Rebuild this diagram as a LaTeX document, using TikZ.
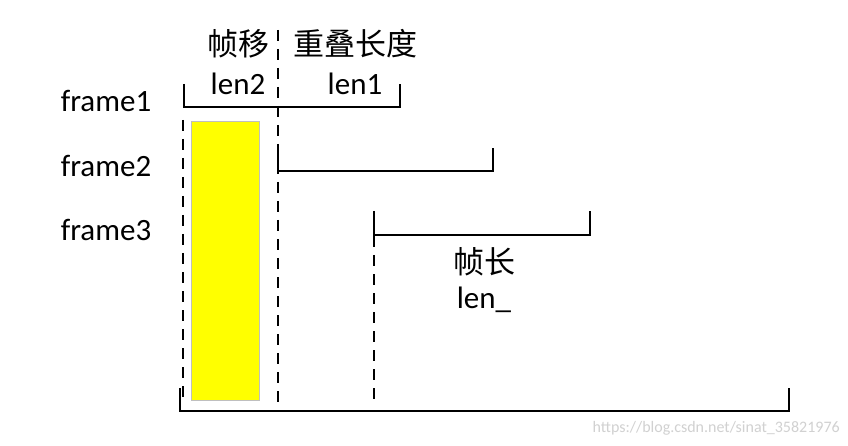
\documentclass[tikz,border=0pt]{standalone}
\usepackage{fontspec}
\setmainfont{Carlito}
\newfontfamily\cjk{Noto Sans CJK SC}
\definecolor{ylw}{RGB}{255,255,0}
\begin{document}
\begin{tikzpicture}[x=1pt,y=-1pt,
  br/.style={line width=2.6pt},
  dsh/.style={line width=2pt,dash pattern=on 11pt off 8pt},
  lbl/.style={font=\fontsize{31}{34}\selectfont,inner sep=0pt},
  cj/.style={font=\cjk\fontsize{31}{34}\selectfont,inner sep=0pt}]
\useasboundingbox[fill=white] (0,0) rectangle (848,446);
% yellow bar
\node[draw=black!25,fill=ylw,minimum width=68pt,minimum height=279pt,inner sep=0pt,anchor=north west,line width=0.8pt] (bar) at (191,121) {};
% labels
\node[lbl] (f1) at (106,101) {frame1};
\node[lbl] (f2) at (106,166) {frame2};
\node[lbl] (f3) at (106,230) {frame3};
\node[cj] (zy) at (238,44) {帧移};
\node[cj] (cd) at (355,44) {重叠长度};
\node[lbl] (l2) at (238,84) {len2};
\node[lbl] (l1) at (355,84) {len1};
\node[cj] (zc) at (484,262) {帧长};
\node[lbl] (ln) at (484,300) {len\_};
\node[font=\fontsize{16}{18}\selectfont,text=black!18,inner sep=0pt,anchor=east] (wm) at (840,428) {https://blog.csdn.net/sinat\_35821976};
% brackets
\coordinate (a1) at (184,84); \coordinate (b1) at (400,84);
\draw[br] (a1) -- (184,107) -- (400,107) -- (b1);
\coordinate (a2) at (278,148); \coordinate (b2) at (493,148);
\draw[br] (a2) -- (278,171) -- (493,171) -- (b2);
\coordinate (a3) at (374,211); \coordinate (b3) at (590,211);
\draw[br] (a3) -- (374,235) -- (590,235) -- (b3);
\coordinate (a4) at (180,388); \coordinate (b4) at (789,388);
\draw[br] (a4) -- (180,411) -- (789,411) -- (b4);
% dashed lines
\coordinate (d1t) at (183,120); \coordinate (d1b) at (183,398);
\draw[dsh] (d1t) -- (d1b);
\coordinate (d2t) at (278,30); \coordinate (d2b) at (278,410);
\draw[dsh] (d2t) -- (d2b);
\coordinate (d3t) at (374,236); \coordinate (d3b) at (374,402);
\draw[dsh] (d3t) -- (d3b);
\end{tikzpicture}
\end{document}
